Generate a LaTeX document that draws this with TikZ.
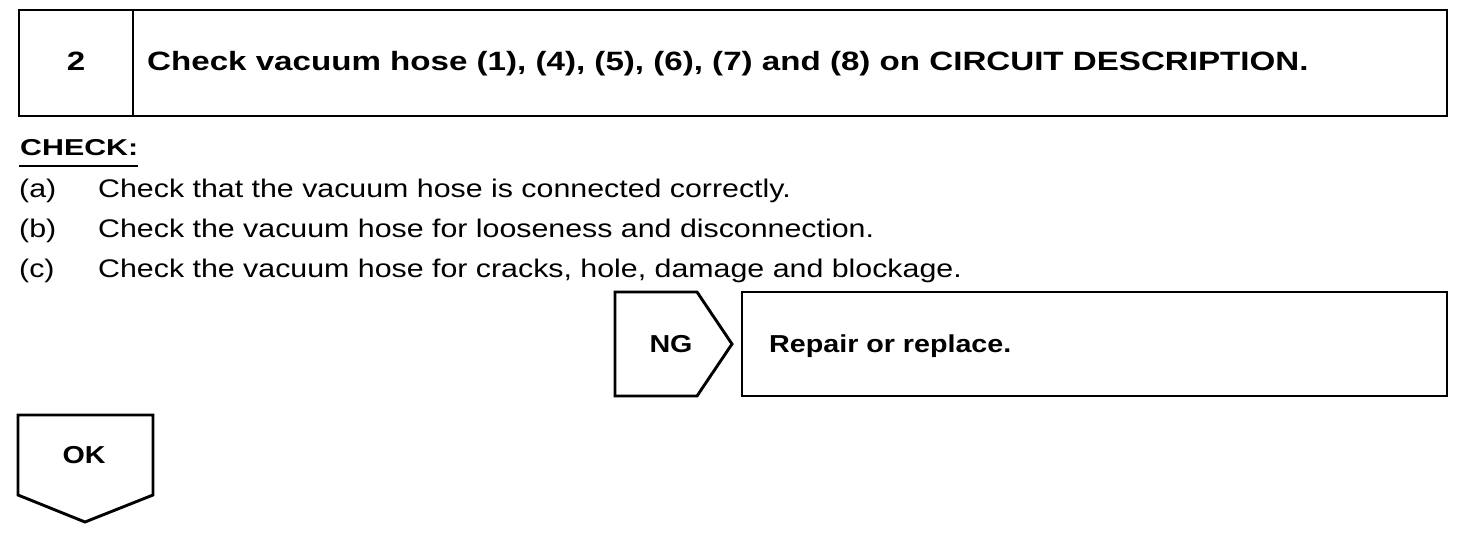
\documentclass[tikz,border=0pt]{standalone}
\usepackage{fontspec}
\setmainfont{Liberation Sans}
\newfontfamily\titlefont[FakeStretch=1.25]{Liberation Sans}
\newfontfamily\bodyfont[FakeStretch=1.19]{Liberation Sans}
\newfontfamily\checkfont[FakeStretch=1.32]{Liberation Sans}
\newfontfamily\tagfont[FakeStretch=1.17]{Liberation Sans}
\begin{document}
\begin{tikzpicture}[x=1pt,y=-1pt,
  frame/.style={draw=black,line width=2.9pt,line join=miter},
  titletxt/.style={font=\titlefont\bfseries\fontsize{26.5}{31}\selectfont,inner sep=0pt,anchor=base},
  bodytxt/.style={font=\bodyfont\fontsize{25.5}{30}\selectfont,inner sep=0pt,anchor=base west},
  tagtxt/.style={font=\tagfont\bfseries\fontsize{24.5}{29}\selectfont,inner sep=0pt,anchor=base}]
\useasboundingbox (0,0) rectangle (1472,536);
% header box
\draw[frame] (19,10) rectangle (1447,116);
\draw[frame] (133,10) -- (133,116);
\node[titletxt] (num) at (76,70) {2};
\node[titletxt,anchor=base west] (title) at (147,70) {Check vacuum hose (1), (4), (5), (6), (7) and (8) on CIRCUIT DESCRIPTION.};
% check
\node[font=\checkfont\bfseries\fontsize{23}{27}\selectfont,inner sep=0pt,anchor=base west] (chk) at (20,155) {CHECK:};
\draw[line width=2pt] (19,166) -- (138,166);
\node[bodytxt] (la) at (19,197) {(a)};
\node[bodytxt] (ta) at (98,197) {Check that the vacuum hose is connected correctly.};
\node[bodytxt] (lb) at (19,237) {(b)};
\node[bodytxt] (tb) at (98,237) {Check the vacuum hose for looseness and disconnection.};
\node[bodytxt] (lc) at (19,277) {(c)};
\node[bodytxt] (tc) at (98,277) {Check the vacuum hose for cracks, hole, damage and blockage.};
% NG
\draw[frame] (615,292) -- (697,292) -- (732,344) -- (697,396) -- (615,396) -- cycle;
\node[tagtxt] (ng) at (671,352) {NG};
\draw[frame] (742,292) rectangle (1447,396);
\node[tagtxt,anchor=base west] (rep) at (769,352) {Repair or replace.};
% OK
\draw[frame] (18,415) -- (153,415) -- (153,495) -- (85,522) -- (18,495) -- cycle;
\node[tagtxt] (ok) at (84,463) {OK};
\end{tikzpicture}
\end{document}
